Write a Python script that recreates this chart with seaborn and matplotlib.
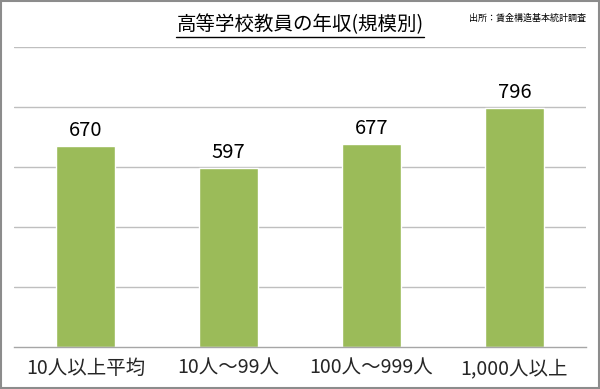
import matplotlib
matplotlib.use("Agg")
import matplotlib.pyplot as plt
import seaborn as sns
import pandas as pd
from matplotlib.patches import Rectangle
from matplotlib.lines import Line2D

# データ
categories = ["10人以上平均", "10人～99人", "100人～999人", "1,000人以上"]
values = [670, 597, 677, 796]
title = "高等学校教員の年収(規模別)"
source = "出所：賃金構造基本統計調査"

sns.set_style("white")
plt.rcParams['font.family'] = ['Noto Sans CJK JP', 'DejaVu Sans']

df = pd.DataFrame({"規模": categories, "年収": values})

fig = plt.figure(figsize=(6, 3.89), dpi=100)
ax = fig.add_axes([14 / 600, 42 / 389, 572 / 600, 300 / 389])

sns.barplot(data=df, x="規模", y="年収", color="#9BBB59", width=0.41,
            saturation=1, ax=ax)

ax.set_ylim(0, 1000)
ax.set_xlim(-0.5, len(categories) - 0.5)
ax.set_yticks([200, 400, 600, 800, 1000])
ax.yaxis.grid(True, color="#BFBFBF", linewidth=1)
ax.set_axisbelow(True)
ax.set_yticklabels([])
ax.tick_params(axis="y", length=0)
ax.set_xlabel("")
ax.set_ylabel("")

# 目盛り（カテゴリ境界）
ax.set_xticks([i - 0.5 for i in range(len(categories) + 1)], minor=True)
ax.tick_params(axis="x", which="minor", length=5, color="#A6A6A6", width=1)
ax.tick_params(axis="x", which="major", length=0, labelsize=14, pad=8)

for s in ["top", "right", "left"]:
    ax.spines[s].set_visible(False)
ax.spines["bottom"].set_color("#A6A6A6")
ax.spines["bottom"].set_linewidth(1)

# 値ラベル
for i, v in enumerate(values):
    ax.text(i, v + 18, str(v), ha="center", va="bottom", fontsize=14.5,
            color="#000000")

# タイトル（下線付き）
t = fig.text(300 / 600, 1 - 25 / 389, title, ha="center", va="center",
             fontsize=14, color="#000000")
fig.canvas.draw()
bb = t.get_window_extent().transformed(fig.transFigure.inverted())
fig.add_artist(Line2D([bb.x0, bb.x1], [1 - 37 / 389] * 2, color="#000000",
                      linewidth=1, transform=fig.transFigure))

fig.text(586 / 600, 1 - 18 / 389, source, ha="right", va="center",
         fontsize=6.5, color="#000000")

# 外枠
fig.add_artist(Rectangle((0.002, 0.003), 0.996, 0.994, fill=False,
                         edgecolor="#8C8C8C", linewidth=1.5,
                         transform=fig.transFigure))

fig.savefig("out.png", dpi=100)
